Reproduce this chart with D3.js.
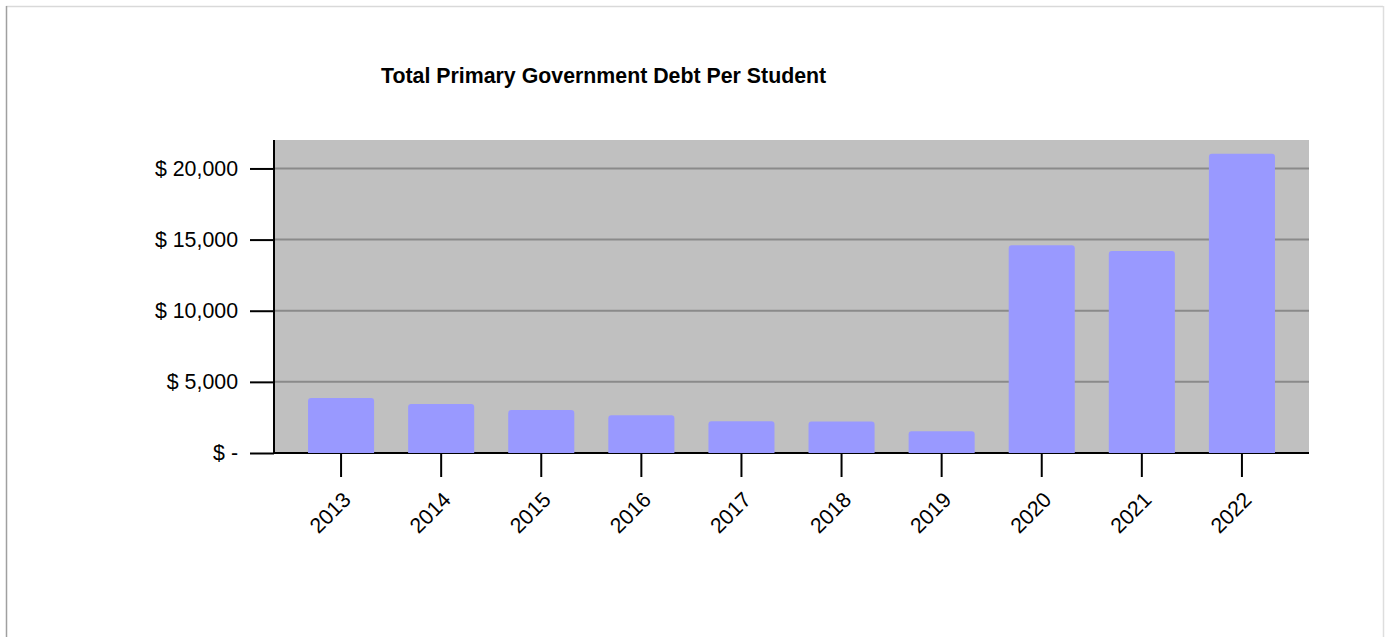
<!DOCTYPE html>
<html>
<head>
<meta charset="utf-8">
<script src="https://cdn.jsdelivr.net/npm/d3@7"></script>
<style>
  html, body { margin: 0; padding: 0; background: #fff; }
  svg { display: block; font-family: "Liberation Sans", Arial, sans-serif; }
</style>
</head>
<body>
<svg id="chart" width="1390" height="637"></svg>
<script>
// Fiscal years and total primary government debt per student (USD)
const years = ["2013", "2014", "2015", "2016", "2017", "2018", "2019", "2020", "2021", "2022"];
const debtPerStudent = [3860, 3440, 3020, 2645, 2225, 2210, 1520, 14600, 14200, 21030];
const yTicks = [0, 5000, 10000, 15000, 20000];
const title = "Total Primary Government Debt Per Student";

const svg = d3.select("#chart");
const W = 1390, H = 637;

// Outer frame
svg.append("line").attr("x1", 6).attr("x2", 1383).attr("y1", 6.5).attr("y2", 6.5)
  .attr("stroke", "#d9d9d9").attr("stroke-width", 1.5);
svg.append("line").attr("x1", 6.5).attr("x2", 6.5).attr("y1", 6).attr("y2", H)
  .attr("stroke", "#a0a0a0").attr("stroke-width", 1.5);
svg.append("line").attr("x1", 1383.5).attr("x2", 1383.5).attr("y1", 6).attr("y2", H)
  .attr("stroke", "#dedede").attr("stroke-width", 1.5);

const plot = { left: 274, right: 1309, top: 140, bottom: 453 };

const x = d3.scaleBand()
  .domain(years)
  .range([plot.left, plot.right])
  .paddingInner(0.34)
  .paddingOuter(0.34);

const y = d3.scaleLinear()
  .domain([0, 22000])
  .range([plot.bottom, plot.top]);

// Title
svg.append("text")
  .attr("x", 381).attr("y", 83)
  .attr("font-size", 21.33).attr("font-weight", "bold")
  .attr("fill", "#000")
  .text(title);

// Plot background
svg.append("rect")
  .attr("x", plot.left).attr("y", plot.top)
  .attr("width", plot.right - plot.left).attr("height", plot.bottom - plot.top)
  .attr("fill", "#c0c0c0");

// Horizontal gridlines
svg.append("g").selectAll("line")
  .data(yTicks.filter(d => d > 0))
  .join("line")
  .attr("x1", plot.left).attr("x2", plot.right)
  .attr("y1", d => y(d)).attr("y2", d => y(d))
  .attr("stroke", "#8a8a8a").attr("stroke-width", 2);

// Y axis
const fmt = d3.format(",");
const yAxis = d3.axisLeft(y)
  .tickValues(yTicks)
  .tickSize(24)
  .tickPadding(12)
  .tickFormat(d => d === 0 ? "$ -" : "$ " + fmt(d));

const gy = svg.append("g")
  .attr("transform", `translate(${plot.left},0)`)
  .call(yAxis);
gy.select(".domain").remove();
gy.selectAll(".tick line").attr("stroke", "#000").attr("stroke-width", 2);
gy.selectAll(".tick text").attr("font-size", 21.33).attr("fill", "#000")
  .attr("font-family", "'Liberation Sans', Arial, sans-serif");
gy.append("line")
  .attr("x1", 0).attr("x2", 0)
  .attr("y1", plot.top).attr("y2", plot.bottom)
  .attr("stroke", "#000").attr("stroke-width", 2);

// X axis
const xAxis = d3.axisBottom(x).tickSize(24).tickSizeOuter(0);
const gx = svg.append("g")
  .attr("transform", `translate(0,${plot.bottom})`)
  .call(xAxis);
gx.select(".domain").remove();
gx.append("line")
  .attr("x1", plot.left - 1).attr("x2", plot.right)
  .attr("y1", 0).attr("y2", 0)
  .attr("stroke", "#000").attr("stroke-width", 2);
gx.selectAll(".tick line").attr("stroke", "#000").attr("stroke-width", 2);
gx.selectAll(".tick text")
  .attr("font-size", 21.33).attr("fill", "#000")
  .attr("font-family", "'Liberation Sans', Arial, sans-serif")
  .attr("x", 0).attr("y", 0).attr("dy", 0)
  .attr("text-anchor", "end")
  .attr("transform", "translate(11,48) rotate(-45)");

// Bars with rounded top corners
const r = 3;
function barPath(x0, w, yTop, yBot) {
  return `M${x0},${yBot}V${yTop + r}Q${x0},${yTop} ${x0 + r},${yTop}` +
    `H${x0 + w - r}Q${x0 + w},${yTop} ${x0 + w},${yTop + r}V${yBot}Z`;
}
svg.append("g").selectAll("path")
  .data(years.map((yr, i) => ({ yr, v: debtPerStudent[i] })))
  .join("path")
  .attr("d", d => barPath(x(d.yr), x.bandwidth(), y(d.v), y(0)))
  .attr("fill", "#9999ff");
</script>
</body>
</html>
